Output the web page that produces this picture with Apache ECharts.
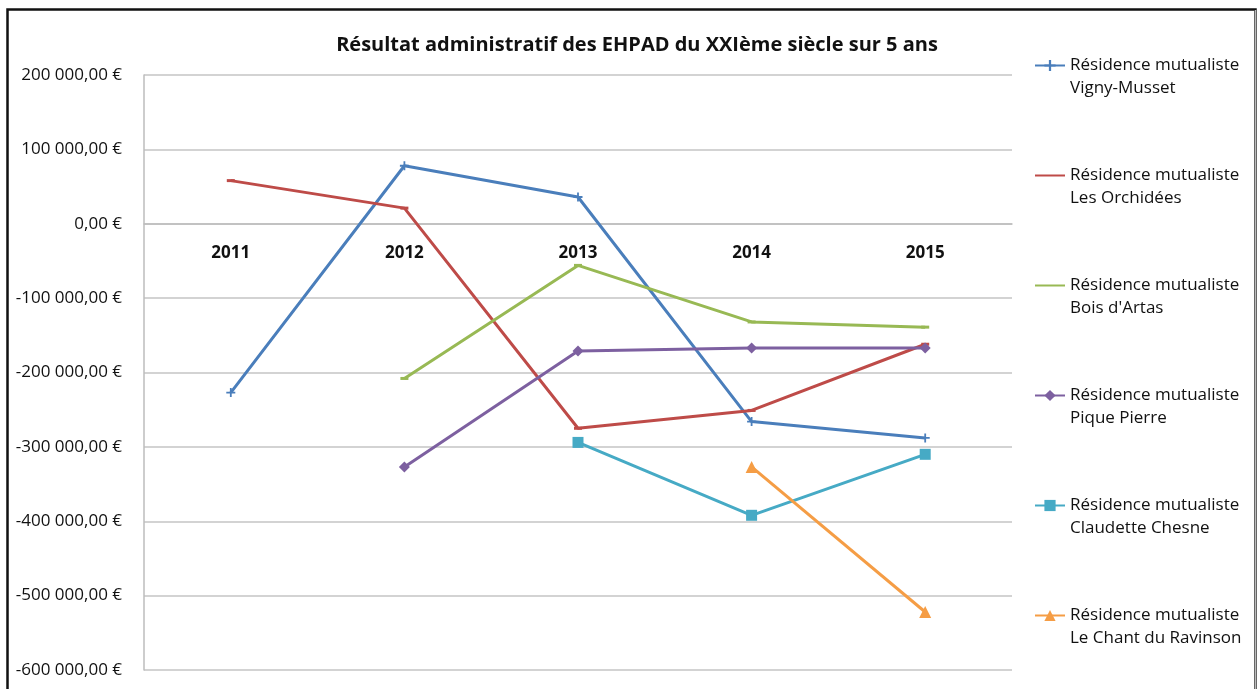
<!DOCTYPE html>
<html>
<head>
<meta charset="utf-8">
<script src="https://cdn.jsdelivr.net/npm/echarts@6/dist/echarts.min.js"></script>
<style>
html,body{margin:0;padding:0;background:#fff;overflow:hidden;}
#chart{width:1258px;height:689px;}
</style>
</head>
<body>
<div id="chart"></div>
<script>
const title = "Résultat administratif des EHPAD du XXIème siècle sur 5 ans";
const years = ["2011", "2012", "2013", "2014", "2015"];
const yTicks = { min: -600000, max: 200000, interval: 100000 };

const seriesNames = [
  "Résidence mutualiste\nVigny-Musset",
  "Résidence mutualiste\nLes Orchidées",
  "Résidence mutualiste\nBois d'Artas",
  "Résidence mutualiste\nPique Pierre",
  "Résidence mutualiste\nClaudette Chesne",
  "Résidence mutualiste\nLe Chant du Ravinson"
];
const vignyMusset    = [-227000, 78000, 36000, -266000, -288000];
const lesOrchidees   = [58000, 21000, -275000, -251000, -162000];
const boisDArtas     = [null, -208000, -56000, -132000, -139000];
const piquePierre    = [null, -327000, -171000, -167000, -167000];
const claudetteChesne= [null, null, -294000, -392000, -310000];
const chantRavinson  = [null, null, null, -327000, -522000];

const seriesData = [vignyMusset, lesOrchidees, boisDArtas, piquePierre, claudetteChesne, chantRavinson];
const colors = ["#4A7EBB", "#BE4B48", "#98B954", "#7D60A0", "#46AAC5", "#F59D45"];
const symbols = [
  'path://M4,0H6V4H10V6H6V10H4V6H0V4H4Z',
  'rect', 'rect', 'diamond', 'rect', 'triangle'
];
const symbolSizes = [9, [8, 3], [8, 3], 11, 11, 12];

function fmtEuro(v) {
  const neg = v < 0;
  const s = Math.abs(v).toFixed(0).replace(/\B(?=(\d{3})+(?!\d))/g, ' ');
  return (neg ? '-' : '') + s + ',00 €';
}

const FONT = "'Open Sans', 'Noto Sans', sans-serif";
const W = 1258, H = 689;
const GRID = { left: 144, right: 246, top: 75, bottom: 19 };
const gridH = H - GRID.top - GRID.bottom;
// pixel distance from top of grid to the zero line (axis crosses at 0)
const zeroOffset = gridH * (yTicks.max - 0) / (yTicks.max - yTicks.min);

const chart = echarts.init(document.getElementById('chart'), null, { renderer: 'canvas', width: W, height: H });

chart.setOption({
  backgroundColor: '#fff',
  animation: false,
  color: colors,
  title: {
    text: title,
    left: 632,
    textAlign: 'center',
    top: 30,
    textStyle: { fontFamily: FONT, fontSize: 20, fontWeight: 'bold', color: '#111' }
  },
  graphic: [
    {
      type: 'rect',
      shape: { x: 7.5, y: 9.5, width: 1248, height: 700 },
      style: { fill: 'none', stroke: '#111', lineWidth: 2.5 },
      silent: true
    },
    {
      type: 'line',
      shape: { x1: 1255.5, y1: 10, x2: 1255.5, y2: 689 },
      style: { stroke: '#bbb', lineWidth: 1.5 },
      silent: true
    }
  ],
  legend: {
    orient: 'vertical',
    left: 1034,
    top: 31,
    padding: 0,
    itemWidth: 30,
    itemHeight: 14,
    itemGap: 41,
    formatter: n => ' \n' + n,
    textStyle: {
      fontFamily: FONT,
      fontSize: 17,
      color: '#111',
      lineHeight: 23
    },
    data: seriesNames.map((n, i) => (i === 1 || i === 2) ? { name: n, itemStyle: { opacity: 0 } } : n)
  },
  grid: Object.assign({ containLabel: false, outerBoundsMode: 'none' }, GRID),
  xAxis: {
    type: 'category',
    data: years,
    boundaryGap: true,
    position: 'top',
    offset: -zeroOffset,
    axisLine: { onZero: false, lineStyle: { color: '#bdbdbd', width: 1.5 } },
    axisTick: { show: false },
    axisLabel: {
      inside: true,
      margin: 21,
      fontFamily: FONT,
      fontSize: 17,
      fontWeight: 'bold',
      color: '#111'
    },
    splitLine: { show: false }
  },
  yAxis: {
    type: 'value',
    min: yTicks.min,
    max: yTicks.max,
    interval: yTicks.interval,
    axisLine: { show: true, onZero: false, lineStyle: { color: '#bdbdbd', width: 1.5 } },
    axisTick: { show: false },
    axisLabel: {
      margin: 22,
      fontFamily: FONT,
      fontSize: 17,
      color: '#111',
      formatter: fmtEuro
    },
    splitLine: { show: true, lineStyle: { color: '#c4c4c4', width: 1.5 } }
  },
  series: seriesData.map((d, i) => ({
    name: seriesNames[i],
    type: 'line',
    data: d,
    symbol: symbols[i],
    symbolSize: symbolSizes[i],
    showSymbol: true,
    connectNulls: false,
    lineStyle: { width: 3, color: colors[i] },
    itemStyle: { color: colors[i] },
    z: 2 + i
  }))
});
</script>
</body>
</html>
